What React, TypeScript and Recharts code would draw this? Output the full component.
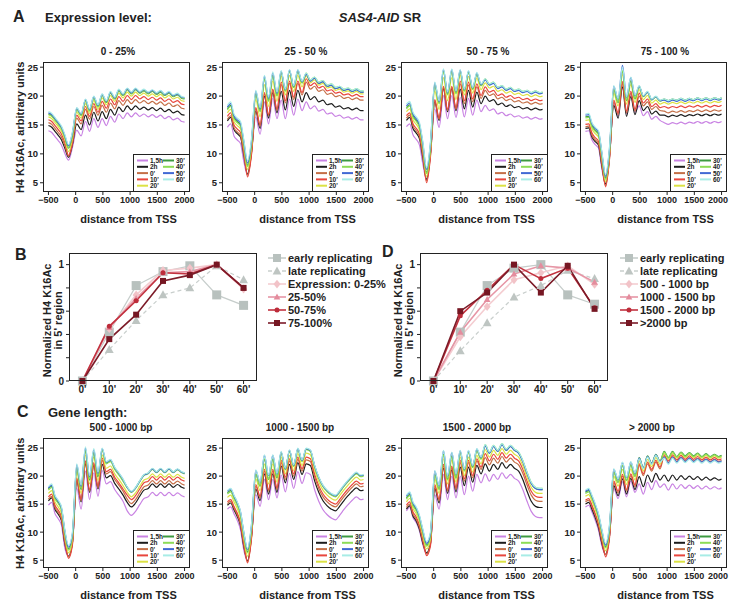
import React from 'react';
import { LineChart, Line, XAxis, YAxis } from 'recharts';

const FONT = "'Liberation Sans', Arial, Helvetica, sans-serif";
const INK = '#222';

// positions (bp from TSS) sampled at nucleosome peaks / troughs, shared by all profile panels
const distance = [-500, -440, -380, -320, -260, -200, -130, -60, 20, 100, 180, 255, 333, 410, 487, 563, 640, 717, 793, 870, 947, 1023, 1100, 1177, 1255, 1332, 1410, 1485, 1560, 1637, 1715, 1792, 1870, 1947, 2000];
const distanceTicks = [-500, 0, 500, 1000, 1500, 2000];
const levelTicks = [5, 10, 15, 20, 25];

const timepoints = ['1,5h', '2h', "0'", "10'", "20'", "30'", "40'", "50'", "60'"];
const timeColors = ['#c983e3', '#1c1c1c', '#c46f47', '#e8463d', '#dce244', '#3d9a40', '#8ddc57', '#4169d4', '#a8ece6'];

// ---- A: expression level 0-25%
const a1_15h = [14.0, 13.7, 13.0, 12.3, 11.5, 10.1, 8.9, 11.1, 14.1, 13.1, 15.6, 13.9, 16.1, 14.6, 16.1, 14.9, 16.5, 15.5, 16.9, 16.1, 17.1, 16.4, 17.1, 16.5, 16.9, 16.4, 16.8, 16.3, 16.7, 16.1, 16.5, 15.9, 16.2, 15.6, 15.5];
const a1_2h = [14.9, 14.6, 13.9, 13.2, 12.4, 11.0, 9.4, 11.6, 15.2, 14.2, 16.7, 15.0, 17.2, 15.7, 17.3, 16.1, 17.7, 16.7, 18.1, 17.3, 18.3, 17.6, 18.3, 17.7, 18.1, 17.6, 18.0, 17.5, 17.9, 17.3, 17.7, 17.1, 17.4, 16.8, 16.7];
const a1_0 = [15.4, 15.1, 14.4, 13.7, 12.9, 11.5, 9.6, 11.8, 16.2, 15.2, 17.7, 16.0, 18.2, 16.7, 18.4, 17.2, 18.8, 17.8, 19.2, 18.4, 19.4, 18.7, 19.4, 18.8, 19.2, 18.7, 19.1, 18.6, 19.0, 18.4, 18.8, 18.2, 18.5, 17.9, 17.8];
const a1_10 = [15.9, 15.6, 14.9, 14.2, 13.4, 12.0, 9.7, 11.9, 16.7, 15.7, 18.2, 16.5, 18.7, 17.2, 19.1, 17.9, 19.5, 18.5, 19.9, 19.1, 20.1, 19.4, 20.1, 19.5, 19.9, 19.4, 19.8, 19.3, 19.7, 19.1, 19.5, 18.9, 19.2, 18.6, 18.5];
const a1_20 = [16.4, 16.1, 15.4, 14.7, 13.9, 12.5, 10.4, 12.6, 17.2, 16.2, 18.7, 17.0, 19.2, 17.7, 19.7, 18.5, 20.1, 19.1, 20.5, 19.7, 20.7, 20.0, 20.7, 20.1, 20.5, 20.0, 20.4, 19.9, 20.3, 19.7, 20.1, 19.5, 19.8, 19.2, 19.1];
const a1_30 = [16.9, 16.6, 15.9, 15.2, 14.4, 13.0, 11.0, 13.2, 17.7, 16.7, 19.2, 17.5, 19.7, 18.2, 20.1, 18.9, 20.5, 19.5, 20.9, 20.1, 21.1, 20.4, 21.1, 20.5, 20.9, 20.4, 20.8, 20.3, 20.7, 20.1, 20.5, 19.9, 20.2, 19.6, 19.5];
const a1_40 = [16.8, 16.5, 15.8, 15.1, 14.3, 12.9, 11.1, 13.3, 17.6, 16.6, 19.1, 17.4, 19.6, 18.1, 20.2, 19.0, 20.6, 19.6, 21.0, 20.2, 21.2, 20.5, 21.2, 20.6, 21.0, 20.5, 20.9, 20.4, 20.8, 20.2, 20.6, 20.0, 20.3, 19.7, 19.6];
const a1_50 = [17.1, 16.8, 16.1, 15.4, 14.6, 13.2, 11.4, 13.6, 17.9, 16.9, 19.4, 17.7, 19.9, 18.4, 20.3, 19.1, 20.7, 19.7, 21.1, 20.3, 21.3, 20.6, 21.3, 20.7, 21.1, 20.6, 21.0, 20.5, 20.9, 20.3, 20.7, 20.1, 20.4, 19.8, 19.7];
const a1_60 = [17.3, 17.0, 16.3, 15.6, 14.8, 13.4, 11.6, 13.8, 18.0, 17.0, 19.5, 17.8, 20.0, 18.5, 20.4, 19.2, 20.8, 19.8, 21.2, 20.4, 21.4, 20.7, 21.4, 20.8, 21.2, 20.7, 21.1, 20.6, 21.0, 20.4, 20.8, 20.2, 20.5, 19.9, 19.8];

// ---- A: 25-50%
const a2_15h = [14.6, 15.2, 13.1, 12.4, 11.8, 8.7, 6.3, 10.0, 16.4, 13.4, 19.0, 15.2, 19.6, 16.1, 19.3, 16.1, 19.5, 16.7, 19.5, 17.5, 19.0, 17.8, 18.3, 17.4, 17.7, 16.9, 17.1, 16.5, 16.7, 16.2, 16.4, 16.0, 16.3, 15.9, 15.9];
const a2_2h = [15.7, 16.3, 14.2, 13.5, 12.9, 9.8, 6.5, 10.2, 17.4, 14.4, 20.0, 16.2, 20.6, 17.1, 20.8, 17.6, 21.0, 18.2, 21.0, 19.0, 20.6, 19.4, 19.9, 19.0, 19.3, 18.5, 18.7, 18.1, 18.3, 17.8, 18.0, 17.6, 17.9, 17.5, 17.5];
const a2_0 = [16.0, 16.6, 14.5, 13.8, 13.2, 10.1, 6.3, 10.0, 17.8, 14.8, 20.4, 16.6, 21.0, 17.5, 22.0, 18.8, 22.2, 19.4, 22.2, 20.2, 22.4, 21.2, 21.7, 20.8, 21.1, 20.3, 20.5, 19.9, 20.1, 19.6, 19.8, 19.4, 19.7, 19.3, 19.3];
const a2_10 = [16.5, 17.1, 15.0, 14.3, 13.7, 10.6, 6.0, 9.7, 18.0, 15.0, 20.6, 16.8, 21.2, 17.7, 22.4, 19.2, 22.6, 19.8, 22.6, 20.6, 23.0, 21.8, 22.3, 21.4, 21.7, 20.9, 21.1, 20.5, 20.7, 20.2, 20.4, 20.0, 20.3, 19.9, 19.9];
const a2_20 = [17.1, 17.7, 15.6, 14.9, 14.3, 11.2, 7.3, 11.0, 19.4, 16.4, 22.0, 18.2, 22.6, 19.1, 23.4, 20.2, 23.6, 20.8, 23.6, 21.6, 23.5, 22.3, 22.8, 21.9, 22.2, 21.4, 21.6, 21.0, 21.2, 20.7, 20.9, 20.5, 20.8, 20.4, 20.4];
const a2_30 = [17.8, 18.4, 16.3, 15.6, 15.0, 11.9, 8.0, 11.7, 20.4, 17.4, 23.0, 19.2, 23.6, 20.1, 24.1, 20.9, 24.3, 21.5, 24.3, 22.3, 23.8, 22.6, 23.1, 22.2, 22.5, 21.7, 21.9, 21.3, 21.5, 21.0, 21.2, 20.8, 21.1, 20.7, 20.7];
const a2_40 = [17.6, 18.2, 16.1, 15.4, 14.8, 11.7, 7.8, 11.5, 20.3, 17.3, 22.9, 19.1, 23.5, 20.0, 24.1, 20.9, 24.3, 21.5, 24.3, 22.3, 24.0, 22.8, 23.3, 22.4, 22.7, 21.9, 22.1, 21.5, 21.7, 21.2, 21.4, 21.0, 21.3, 20.9, 20.9];
const a2_50 = [18.1, 18.7, 16.6, 15.9, 15.3, 12.2, 8.4, 12.1, 20.8, 17.8, 23.4, 19.6, 24.0, 20.5, 24.3, 21.1, 24.5, 21.7, 24.5, 22.5, 23.8, 22.6, 23.1, 22.2, 22.5, 21.7, 21.9, 21.3, 21.5, 21.0, 21.2, 20.8, 21.1, 20.7, 20.7];
const a2_60 = [18.4, 19.0, 16.9, 16.2, 15.6, 12.5, 8.8, 12.5, 21.0, 18.0, 23.6, 19.8, 24.2, 20.7, 24.4, 21.2, 24.6, 21.8, 24.6, 22.6, 24.0, 22.8, 23.3, 22.4, 22.7, 21.9, 22.1, 21.5, 21.7, 21.2, 21.4, 21.0, 21.3, 20.9, 20.9];

// ---- A: 50-75%
const a3_15h = [14.7, 15.2, 13.3, 12.5, 11.5, 8.3, 5.5, 9.9, 17.8, 14.6, 20.1, 16.1, 20.1, 16.3, 19.8, 16.4, 19.6, 16.7, 19.3, 17.3, 18.4, 17.5, 17.8, 16.9, 17.2, 16.6, 16.9, 16.4, 16.6, 16.2, 16.4, 16.0, 16.3, 16.0, 16.1];
const a3_2h = [15.8, 16.3, 14.4, 13.6, 12.6, 9.4, 5.6, 10.0, 19.0, 15.8, 21.3, 17.3, 21.3, 17.5, 21.2, 17.8, 21.0, 18.1, 20.7, 18.7, 20.0, 19.1, 19.4, 18.5, 18.8, 18.2, 18.5, 18.0, 18.2, 17.8, 18.0, 17.6, 17.9, 17.6, 17.7];
const a3_0 = [16.2, 16.7, 14.8, 14.0, 13.0, 9.8, 5.3, 9.7, 19.2, 16.0, 21.5, 17.5, 21.5, 17.7, 22.1, 18.7, 21.9, 19.0, 21.6, 19.6, 21.0, 20.1, 20.4, 19.5, 19.8, 19.2, 19.5, 19.0, 19.2, 18.8, 19.0, 18.6, 18.9, 18.6, 18.7];
const a3_10 = [16.6, 17.1, 15.2, 14.4, 13.4, 10.2, 5.0, 9.4, 19.4, 16.2, 21.7, 17.7, 21.7, 17.9, 22.6, 19.2, 22.4, 19.5, 22.1, 20.1, 21.6, 20.7, 21.0, 20.1, 20.4, 19.8, 20.1, 19.6, 19.8, 19.4, 19.6, 19.2, 19.5, 19.2, 19.3];
const a3_20 = [17.3, 17.8, 15.9, 15.1, 14.1, 10.9, 6.1, 10.5, 20.9, 17.7, 23.2, 19.2, 23.2, 19.4, 23.6, 20.2, 23.4, 20.5, 23.1, 21.1, 22.3, 21.4, 21.7, 20.8, 21.1, 20.5, 20.8, 20.3, 20.5, 20.1, 20.3, 19.9, 20.2, 19.9, 20.0];
const a3_30 = [18.0, 18.5, 16.6, 15.8, 14.8, 11.6, 6.8, 11.2, 22.0, 18.8, 24.3, 20.3, 24.3, 20.5, 24.3, 20.9, 24.1, 21.2, 23.8, 21.8, 22.9, 22.0, 22.3, 21.4, 21.7, 21.1, 21.4, 20.9, 21.1, 20.7, 20.9, 20.5, 20.8, 20.5, 20.6];
const a3_40 = [17.8, 18.3, 16.4, 15.6, 14.6, 11.4, 6.6, 11.0, 21.9, 18.7, 24.2, 20.2, 24.2, 20.4, 24.3, 20.9, 24.1, 21.2, 23.8, 21.8, 23.0, 22.1, 22.4, 21.5, 21.8, 21.2, 21.5, 21.0, 21.2, 20.8, 21.0, 20.6, 20.9, 20.6, 20.7];
const a3_50 = [18.3, 18.8, 16.9, 16.1, 15.1, 11.9, 7.3, 11.7, 22.3, 19.1, 24.6, 20.6, 24.6, 20.8, 24.5, 21.1, 24.3, 21.4, 24.0, 22.0, 22.8, 21.9, 22.2, 21.3, 21.6, 21.0, 21.3, 20.8, 21.0, 20.6, 20.8, 20.4, 20.7, 20.4, 20.5];
const a3_60 = [18.6, 19.1, 17.2, 16.4, 15.4, 12.2, 7.6, 12.0, 22.4, 19.2, 24.7, 20.7, 24.7, 20.9, 24.6, 21.2, 24.4, 21.5, 24.1, 22.1, 23.0, 22.1, 22.4, 21.5, 21.8, 21.2, 21.5, 21.0, 21.2, 20.8, 21.0, 20.6, 20.9, 20.6, 20.7];

// ---- A: 75-100%
const a4_15h = [13.9, 14.0, 12.4, 11.6, 11.0, 7.5, 4.7, 9.3, 18.8, 16.6, 22.0, 16.9, 20.3, 17.2, 18.3, 16.6, 17.3, 16.0, 16.5, 15.8, 15.4, 15.1, 15.4, 15.2, 15.5, 15.2, 15.5, 15.3, 15.6, 15.3, 15.6, 15.3, 15.6, 15.4, 15.6];
const a4_2h = [14.4, 14.5, 12.9, 12.1, 11.5, 8.0, 4.8, 9.4, 18.4, 16.2, 21.6, 16.5, 19.9, 16.8, 19.2, 17.5, 18.2, 16.9, 17.4, 16.7, 16.7, 16.4, 16.7, 16.5, 16.8, 16.5, 16.8, 16.6, 16.9, 16.6, 16.9, 16.6, 16.9, 16.7, 16.9];
const a4_0 = [14.7, 14.8, 13.2, 12.4, 11.8, 8.3, 4.5, 9.1, 19.0, 16.8, 22.2, 17.1, 20.5, 17.4, 20.0, 18.3, 19.0, 17.7, 18.2, 17.5, 17.4, 17.1, 17.4, 17.2, 17.5, 17.2, 17.5, 17.3, 17.6, 17.3, 17.6, 17.3, 17.6, 17.4, 17.6];
const a4_10 = [15.1, 15.2, 13.6, 12.8, 12.2, 8.7, 4.3, 8.9, 19.3, 17.1, 22.5, 17.4, 20.8, 17.7, 20.5, 18.8, 19.5, 18.2, 18.7, 18.0, 18.2, 17.9, 18.2, 18.0, 18.3, 18.0, 18.3, 18.1, 18.4, 18.1, 18.4, 18.1, 18.4, 18.2, 18.4];
const a4_20 = [15.8, 15.9, 14.3, 13.5, 12.9, 9.4, 5.2, 9.8, 20.5, 18.3, 23.7, 18.6, 22.0, 18.9, 21.1, 19.4, 20.1, 18.8, 19.3, 18.6, 18.9, 18.6, 18.9, 18.7, 19.0, 18.7, 19.0, 18.8, 19.1, 18.8, 19.1, 18.8, 19.1, 18.9, 19.1];
const a4_30 = [16.4, 16.5, 14.9, 14.1, 13.5, 10.0, 5.8, 10.4, 21.1, 18.9, 24.3, 19.2, 22.6, 19.5, 21.7, 20.0, 20.7, 19.4, 19.9, 19.2, 19.5, 19.2, 19.5, 19.3, 19.6, 19.3, 19.6, 19.4, 19.7, 19.4, 19.7, 19.4, 19.7, 19.5, 19.7];
const a4_40 = [16.2, 16.3, 14.7, 13.9, 13.3, 9.8, 5.6, 10.2, 21.2, 19.0, 24.4, 19.3, 22.7, 19.6, 21.6, 19.9, 20.6, 19.3, 19.8, 19.1, 19.4, 19.1, 19.4, 19.2, 19.5, 19.2, 19.5, 19.3, 19.6, 19.3, 19.6, 19.3, 19.6, 19.4, 19.6];
const a4_50 = [16.7, 16.8, 15.2, 14.4, 13.8, 10.3, 6.1, 10.7, 21.7, 19.5, 25.3, 19.8, 23.2, 20.1, 21.7, 20.0, 20.7, 19.4, 19.9, 19.2, 19.3, 19.0, 19.3, 19.1, 19.4, 19.1, 19.4, 19.2, 19.5, 19.2, 19.5, 19.2, 19.5, 19.3, 19.5];
const a4_60 = [16.9, 17.0, 15.4, 14.6, 14.0, 10.5, 6.4, 11.0, 21.8, 19.6, 25.0, 19.9, 23.3, 20.2, 21.8, 20.1, 20.8, 19.5, 20.0, 19.3, 19.5, 19.2, 19.5, 19.3, 19.6, 19.3, 19.6, 19.4, 19.7, 19.4, 19.7, 19.4, 19.7, 19.5, 19.7];

// ---- C: gene length 500-1000 bp
const c1_15h = [14.8, 15.3, 13.3, 12.4, 11.2, 7.2, 5.7, 8.1, 17.9, 14.1, 20.9, 15.8, 20.6, 16.4, 21.0, 18.6, 19.0, 17.6, 16.6, 15.5, 13.8, 13.0, 13.7, 14.9, 16.0, 16.3, 17.1, 16.5, 17.1, 16.5, 17.1, 16.5, 17.0, 16.5, 16.3];
const c1_2h = [15.6, 16.1, 14.1, 13.2, 12.0, 8.0, 5.7, 8.1, 19.2, 15.4, 22.2, 17.1, 21.9, 17.7, 22.1, 19.7, 20.1, 18.7, 17.7, 16.6, 15.3, 14.5, 15.2, 16.4, 17.5, 17.8, 18.6, 18.0, 18.6, 18.0, 18.6, 18.0, 18.5, 18.0, 17.8];
const c1_0 = [15.9, 16.4, 14.4, 13.5, 12.3, 8.3, 5.6, 8.0, 19.4, 15.6, 22.4, 17.3, 22.1, 17.9, 22.8, 20.4, 20.8, 19.4, 18.4, 17.3, 15.9, 15.1, 15.8, 17.0, 18.1, 18.4, 19.2, 18.6, 19.2, 18.6, 19.2, 18.6, 19.1, 18.6, 18.4];
const c1_10 = [16.3, 16.8, 14.8, 13.9, 12.7, 8.7, 5.3, 7.7, 19.7, 15.9, 22.7, 17.6, 22.4, 18.2, 23.2, 20.8, 21.2, 19.8, 18.8, 17.7, 16.6, 15.8, 16.5, 17.7, 18.8, 19.1, 19.9, 19.3, 19.9, 19.3, 19.9, 19.3, 19.8, 19.3, 19.1];
const c1_20 = [16.9, 17.4, 15.4, 14.5, 13.3, 9.3, 6.3, 8.7, 20.7, 16.9, 23.7, 18.6, 23.4, 19.2, 23.8, 21.4, 21.8, 20.4, 19.4, 18.3, 17.1, 16.3, 17.0, 18.2, 19.3, 19.6, 20.4, 19.8, 20.4, 19.8, 20.4, 19.8, 20.3, 19.8, 19.6];
const c1_30 = [17.7, 18.2, 16.2, 15.3, 14.1, 10.1, 7.0, 9.4, 21.4, 17.6, 24.4, 19.3, 24.1, 19.9, 24.7, 22.3, 22.7, 21.3, 20.3, 19.2, 18.0, 17.2, 17.9, 19.1, 20.2, 20.5, 21.3, 20.7, 21.3, 20.7, 21.3, 20.7, 21.2, 20.7, 20.5];
const c1_40 = [17.5, 18.0, 16.0, 15.1, 13.9, 9.9, 6.8, 9.2, 21.6, 17.8, 24.6, 19.5, 24.3, 20.1, 24.6, 22.2, 22.6, 21.2, 20.2, 19.1, 17.9, 17.1, 17.8, 19.0, 20.1, 20.4, 21.2, 20.6, 21.2, 20.6, 21.2, 20.6, 21.1, 20.6, 20.4];
const c1_50 = [17.9, 18.4, 16.4, 15.5, 14.3, 10.3, 7.3, 9.7, 22.0, 18.2, 25.0, 19.9, 24.7, 20.5, 24.9, 22.5, 22.9, 21.5, 20.5, 19.4, 18.0, 17.2, 17.9, 19.1, 20.2, 20.5, 21.3, 20.7, 21.3, 20.7, 21.3, 20.7, 21.2, 20.7, 20.5];
const c1_60 = [18.1, 18.6, 16.6, 15.7, 14.5, 10.5, 7.6, 10.0, 22.2, 18.4, 25.2, 20.1, 24.9, 20.7, 25.0, 22.6, 23.0, 21.6, 20.6, 19.5, 18.1, 17.3, 18.0, 19.2, 20.3, 20.6, 21.4, 20.8, 21.4, 20.8, 21.4, 20.8, 21.3, 20.8, 20.6];

// ---- C: 1000-1500 bp
const c2_15h = [14.1, 14.5, 13.3, 12.1, 10.4, 6.8, 4.9, 9.1, 16.7, 14.6, 19.4, 15.8, 19.4, 16.1, 20.2, 17.2, 20.5, 17.8, 20.8, 18.7, 20.6, 20.3, 17.6, 15.5, 14.0, 13.1, 12.5, 12.2, 13.0, 14.0, 14.9, 15.7, 16.3, 15.8, 15.9];
const c2_2h = [14.8, 15.2, 14.0, 12.8, 11.1, 7.5, 4.9, 9.1, 17.7, 15.6, 20.4, 16.8, 20.4, 17.1, 21.8, 18.8, 22.1, 19.4, 22.4, 20.3, 22.2, 21.9, 19.2, 17.1, 15.6, 14.7, 14.1, 13.8, 14.6, 15.6, 16.5, 17.3, 17.9, 17.4, 17.5];
const c2_0 = [15.1, 15.5, 14.3, 13.1, 11.4, 7.8, 4.7, 8.9, 18.2, 16.1, 20.9, 17.3, 20.9, 17.6, 22.4, 19.4, 22.7, 20.0, 23.0, 20.9, 22.9, 22.6, 19.9, 17.8, 16.3, 15.4, 14.8, 14.5, 15.3, 16.3, 17.2, 18.0, 18.6, 18.1, 18.2];
const c2_10 = [15.4, 15.8, 14.6, 13.4, 11.7, 8.1, 4.5, 8.7, 18.5, 16.4, 21.2, 17.6, 21.2, 17.9, 22.8, 19.8, 23.1, 20.4, 23.4, 21.3, 23.4, 23.1, 20.4, 18.3, 16.8, 15.9, 15.3, 15.0, 15.8, 16.8, 17.7, 18.5, 19.1, 18.6, 18.7];
const c2_20 = [16.2, 16.6, 15.4, 14.2, 12.5, 8.9, 5.7, 9.9, 19.5, 17.4, 22.2, 18.6, 22.2, 18.9, 23.4, 20.4, 23.7, 21.0, 24.0, 21.9, 24.1, 23.8, 21.1, 19.0, 17.5, 16.6, 16.0, 15.7, 16.5, 17.5, 18.4, 19.2, 19.8, 19.3, 19.4];
const c2_30 = [17.0, 17.4, 16.2, 15.0, 13.3, 9.7, 6.5, 10.7, 20.3, 18.2, 23.0, 19.4, 23.0, 19.7, 24.2, 21.2, 24.5, 21.8, 24.8, 22.7, 24.8, 24.5, 21.8, 19.7, 18.2, 17.3, 16.7, 16.4, 17.2, 18.2, 19.1, 19.9, 20.5, 20.0, 20.1];
const c2_40 = [16.8, 17.2, 16.0, 14.8, 13.1, 9.5, 6.3, 10.5, 20.4, 18.3, 23.1, 19.5, 23.1, 19.8, 24.1, 21.1, 24.4, 21.7, 24.7, 22.6, 24.7, 24.4, 21.7, 19.6, 18.1, 17.2, 16.6, 16.3, 17.1, 18.1, 19.0, 19.8, 20.4, 19.9, 20.0];
const c2_50 = [17.3, 17.7, 16.5, 15.3, 13.6, 10.0, 6.9, 11.1, 21.0, 18.9, 23.7, 20.1, 23.7, 20.4, 24.3, 21.3, 24.6, 21.9, 24.9, 22.8, 24.9, 24.6, 21.9, 19.8, 18.3, 17.4, 16.8, 16.5, 17.3, 18.3, 19.2, 20.0, 20.6, 20.1, 20.2];
const c2_60 = [17.4, 17.8, 16.6, 15.4, 13.7, 10.1, 7.1, 11.3, 21.1, 19.0, 23.8, 20.2, 23.8, 20.5, 24.4, 21.4, 24.7, 22.0, 25.0, 22.9, 25.0, 24.7, 22.0, 19.9, 18.4, 17.5, 16.9, 16.6, 17.4, 18.4, 19.3, 20.1, 20.7, 20.2, 20.3];

// ---- C: 1500-2000 bp
const c3_15h = [13.8, 14.4, 12.6, 11.7, 10.2, 7.8, 6.1, 7.8, 16.7, 14.1, 20.3, 15.8, 20.0, 16.1, 20.0, 16.7, 20.0, 17.3, 20.3, 18.8, 20.4, 19.1, 20.3, 19.4, 20.6, 19.6, 20.3, 19.6, 19.1, 17.6, 15.5, 13.7, 12.8, 12.6, 12.6];
const c3_2h = [14.1, 14.7, 12.9, 12.0, 10.5, 8.1, 6.3, 8.0, 17.8, 15.2, 21.4, 16.9, 21.1, 17.2, 21.6, 18.3, 21.6, 18.9, 21.9, 20.4, 22.2, 20.9, 22.1, 21.2, 22.4, 21.4, 22.1, 21.4, 20.9, 19.4, 17.3, 15.5, 14.6, 14.4, 14.4];
const c3_0 = [14.4, 15.0, 13.2, 12.3, 10.8, 8.4, 6.1, 7.8, 18.2, 15.6, 21.8, 17.3, 21.5, 17.6, 22.4, 19.1, 22.4, 19.7, 22.7, 21.2, 23.3, 22.0, 23.2, 22.3, 23.5, 22.5, 23.2, 22.5, 22.0, 20.5, 18.4, 16.6, 15.7, 15.5, 15.5];
const c3_10 = [14.8, 15.4, 13.6, 12.7, 11.2, 8.8, 5.8, 7.5, 18.5, 15.9, 22.1, 17.6, 21.8, 17.9, 22.8, 19.5, 22.8, 20.1, 23.1, 21.6, 24.0, 22.7, 23.9, 23.0, 24.2, 23.2, 23.9, 23.2, 22.7, 21.2, 19.1, 17.3, 16.4, 16.2, 16.2];
const c3_20 = [15.4, 16.0, 14.2, 13.3, 11.8, 9.4, 7.0, 8.7, 19.5, 16.9, 23.1, 18.6, 22.8, 18.9, 23.4, 20.1, 23.4, 20.7, 23.7, 22.2, 24.7, 23.4, 24.6, 23.7, 24.9, 23.9, 24.6, 23.9, 23.4, 21.9, 19.8, 18.0, 17.1, 16.9, 16.9];
const c3_30 = [16.1, 16.7, 14.9, 14.0, 12.5, 10.1, 7.7, 9.4, 20.3, 17.7, 23.9, 19.4, 23.6, 19.7, 24.3, 21.0, 24.3, 21.6, 24.6, 23.1, 25.4, 24.1, 25.3, 24.4, 25.6, 24.6, 25.3, 24.6, 24.1, 22.6, 20.5, 18.7, 17.8, 17.6, 17.6];
const c3_40 = [15.9, 16.5, 14.7, 13.8, 12.3, 9.9, 7.5, 9.2, 20.2, 17.6, 23.8, 19.3, 23.5, 19.6, 24.2, 20.9, 24.2, 21.5, 24.5, 23.0, 25.6, 24.3, 25.5, 24.6, 25.8, 24.8, 25.5, 24.8, 24.3, 22.8, 20.7, 18.9, 18.0, 17.8, 17.8];
const c3_50 = [16.4, 17.0, 15.2, 14.3, 12.8, 10.4, 8.0, 9.7, 20.9, 18.3, 24.5, 20.0, 24.2, 20.3, 24.5, 21.2, 24.5, 21.8, 24.8, 23.3, 25.4, 24.1, 25.3, 24.4, 25.6, 24.6, 25.3, 24.6, 24.1, 22.6, 20.5, 18.7, 17.8, 17.6, 17.6];
const c3_60 = [16.6, 17.2, 15.4, 14.5, 13.0, 10.6, 8.3, 10.0, 21.0, 18.4, 24.6, 20.1, 24.3, 20.4, 24.6, 21.3, 24.6, 21.9, 24.9, 23.4, 25.6, 24.3, 25.5, 24.6, 25.8, 24.8, 25.5, 24.8, 24.3, 22.8, 20.7, 18.9, 18.0, 17.8, 17.8];

// ---- C: > 2000 bp
const c4_15h = [14.5, 14.8, 13.6, 12.1, 10.3, 7.6, 6.0, 9.2, 17.8, 16.0, 19.0, 16.3, 19.1, 17.1, 18.6, 16.8, 18.9, 17.6, 19.2, 18.0, 18.6, 17.5, 18.6, 17.7, 18.5, 17.8, 18.4, 17.8, 18.3, 17.7, 18.2, 17.7, 18.1, 17.7, 17.9];
const c4_2h = [15.0, 15.3, 14.1, 12.6, 10.8, 8.1, 6.0, 9.2, 18.3, 16.5, 19.5, 16.8, 19.6, 17.6, 19.9, 18.1, 20.2, 18.9, 20.5, 19.3, 20.2, 19.1, 20.2, 19.3, 20.1, 19.4, 20.0, 19.4, 19.9, 19.3, 19.8, 19.3, 19.7, 19.3, 19.5];
const c4_0 = [15.4, 15.7, 14.5, 13.0, 11.2, 8.5, 6.0, 9.2, 18.8, 17.0, 20.0, 17.3, 20.1, 18.1, 21.9, 20.1, 22.2, 20.9, 22.5, 21.3, 23.5, 22.4, 23.5, 22.6, 23.4, 22.7, 23.3, 22.7, 23.2, 22.6, 23.1, 22.6, 23.0, 22.6, 22.8];
const c4_10 = [15.7, 16.0, 14.8, 13.3, 11.5, 8.8, 5.6, 8.8, 19.1, 17.3, 20.3, 17.6, 20.4, 18.4, 22.2, 20.4, 22.5, 21.2, 22.8, 21.6, 23.8, 22.7, 23.8, 22.9, 23.7, 23.0, 23.6, 23.0, 23.5, 22.9, 23.4, 22.9, 23.3, 22.9, 23.1];
const c4_20 = [16.4, 16.7, 15.5, 14.0, 12.2, 9.5, 6.7, 9.9, 20.0, 18.2, 21.2, 18.5, 21.3, 19.3, 22.7, 20.9, 23.0, 21.7, 23.3, 22.1, 24.1, 23.0, 24.1, 23.2, 24.0, 23.3, 23.9, 23.3, 23.8, 23.2, 23.7, 23.2, 23.6, 23.2, 23.4];
const c4_30 = [17.1, 17.4, 16.2, 14.7, 12.9, 10.2, 7.4, 10.6, 20.7, 18.9, 21.9, 19.2, 22.0, 20.0, 23.3, 21.5, 23.6, 22.3, 23.9, 22.7, 24.4, 23.3, 24.4, 23.5, 24.3, 23.6, 24.2, 23.6, 24.1, 23.5, 24.0, 23.5, 23.9, 23.5, 23.7];
const c4_40 = [16.9, 17.2, 16.0, 14.5, 12.7, 10.0, 7.2, 10.4, 20.7, 18.9, 21.9, 19.2, 22.0, 20.0, 23.2, 21.4, 23.5, 22.2, 23.8, 22.6, 24.3, 23.2, 24.3, 23.4, 24.2, 23.5, 24.1, 23.5, 24.0, 23.4, 23.9, 23.4, 23.8, 23.4, 23.6];
const c4_50 = [17.3, 17.6, 16.4, 14.9, 13.1, 10.4, 7.7, 10.9, 21.2, 19.4, 22.4, 19.7, 22.5, 20.5, 23.2, 21.4, 23.5, 22.2, 23.8, 22.6, 23.4, 22.3, 23.4, 22.5, 23.3, 22.6, 23.2, 22.6, 23.1, 22.5, 23.0, 22.5, 22.9, 22.5, 22.7];
const c4_60 = [17.5, 17.8, 16.6, 15.1, 13.3, 10.6, 8.0, 11.2, 21.3, 19.5, 22.5, 19.8, 22.6, 20.6, 23.1, 21.3, 23.4, 22.1, 23.7, 22.5, 23.2, 22.1, 23.2, 22.3, 23.1, 22.4, 23.0, 22.4, 22.9, 22.3, 22.8, 22.3, 22.7, 22.3, 22.5];

// ---- B / D: normalized H4K16Ac in 5' region
const timeMinutes = [0, 10, 20, 30, 40, 50, 60];
const timeLabels = ["0'", "10'", "20'", "30'", "40'", "50'", "60'"];
const normTicks = [0, 0.2, 0.4, 0.6, 0.8, 1];

const bEarly = [0, 0.42, 0.82, 0.94, 0.99, 0.74, 0.65];
const bLate = [0, 0.27, 0.52, 0.74, 0.80, 0.99, 0.87];
const bExpr0_25 = [0, 0.45, 0.74, 0.95, 0.97, 1.0, 0.79];
const bExpr25_50 = [0, 0.46, 0.71, 0.93, 0.94, 1.0, 0.80];
const bExpr50_75 = [0, 0.47, 0.69, 0.93, 0.92, 1.0, 0.80];
const bExpr75_100 = [0, 0.36, 0.57, 0.86, 0.91, 1.0, 0.80];

const dEarly = [0, 0.42, 0.82, 0.97, 1.0, 0.74, 0.66];
const dLate = [0, 0.26, 0.50, 0.72, 0.82, 0.95, 0.88];
const dLen500 = [0, 0.38, 0.64, 0.87, 0.93, 0.99, 0.83];
const dLen1000 = [0, 0.42, 0.70, 0.92, 0.99, 0.97, 0.85];
const dLen1500 = [0, 0.56, 0.78, 1.0, 0.88, 0.97, 0.63];
const dLen2000 = [0, 0.60, 0.76, 1.0, 0.76, 0.99, 0.62];

const expressionPanels = [
  { title: '0 - 25%', titleX: 118, lines: [a1_15h, a1_2h, a1_0, a1_10, a1_20, a1_30, a1_40, a1_50, a1_60] },
  { title: '25 - 50 %', titleX: 306, lines: [a2_15h, a2_2h, a2_0, a2_10, a2_20, a2_30, a2_40, a2_50, a2_60] },
  { title: '50 - 75 %', titleX: 488, lines: [a3_15h, a3_2h, a3_0, a3_10, a3_20, a3_30, a3_40, a3_50, a3_60] },
  { title: '75 - 100 %', titleX: 665, lines: [a4_15h, a4_2h, a4_0, a4_10, a4_20, a4_30, a4_40, a4_50, a4_60] },
];
const lengthPanels = [
  { title: '500 - 1000 bp', titleX: 121, lines: [c1_15h, c1_2h, c1_0, c1_10, c1_20, c1_30, c1_40, c1_50, c1_60] },
  { title: '1000 - 1500 bp', titleX: 300, lines: [c2_15h, c2_2h, c2_0, c2_10, c2_20, c2_30, c2_40, c2_50, c2_60] },
  { title: '1500 - 2000 bp', titleX: 477, lines: [c3_15h, c3_2h, c3_0, c3_10, c3_20, c3_30, c3_40, c3_50, c3_60] },
  { title: '> 2000 bp', titleX: 652, lines: [c4_15h, c4_2h, c4_0, c4_10, c4_20, c4_30, c4_40, c4_50, c4_60] },
];

const expressionSeries = [
  { name: 'early replicating', values: bEarly, color: '#c6cdcb', fill: '#b8c1be', shape: 'square', size: 9, dash: '' },
  { name: 'late replicating', values: bLate, color: '#c9cfcd', fill: '#bec5c2', shape: 'triangle', size: 8, dash: '4 3' },
  { name: 'Expression: 0-25%', values: bExpr0_25, color: '#f4cdd1', fill: '#f2c3c8', shape: 'diamond', size: 7, dash: '' },
  { name: '25-50%', values: bExpr25_50, color: '#e695a5', fill: '#e48c9d', shape: 'triangle', size: 6, dash: '' },
  { name: '50-75%', values: bExpr50_75, color: '#c2323f', fill: '#bd2c3a', shape: 'circle', size: 5, dash: '' },
  { name: '75-100%', values: bExpr75_100, color: '#7c1b28', fill: '#761723', shape: 'square', size: 6, dash: '' },
];
const lengthSeries = [
  { name: 'early replicating', values: dEarly, color: '#c6cdcb', fill: '#b8c1be', shape: 'square', size: 9, dash: '' },
  { name: 'late replicating', values: dLate, color: '#c9cfcd', fill: '#bec5c2', shape: 'triangle', size: 8, dash: '4 3' },
  { name: '500 - 1000 bp', values: dLen500, color: '#f4cdd1', fill: '#f2c3c8', shape: 'diamond', size: 7, dash: '' },
  { name: '1000 - 1500 bp', values: dLen1000, color: '#e695a5', fill: '#e48c9d', shape: 'triangle', size: 6, dash: '' },
  { name: '1500 - 2000 bp', values: dLen1500, color: '#c2323f', fill: '#bd2c3a', shape: 'circle', size: 5, dash: '' },
  { name: '>2000 bp', values: dLen2000, color: '#7c1b28', fill: '#761723', shape: 'square', size: 6, dash: '' },
];

const PAGE_W = 729;
const PLOT_LEFTS = [43, 222, 401, 580];
const PLOT_W = 147;
const PLOT_H = 130;
const AXIS_W = 30;
const XAXIS_H = 22;
const PAD = 2;
const RIGHT_PAD = 14;
const TICK_FONT = 9;

function Txt({ x, y, size, children, align = 'center', bold = true }: any) {
  const w = 300;
  const left = align === 'center' ? x - w / 2 : align === 'right' ? x - w : x;
  return (
    <div style={{ position: 'absolute', left, top: y - size * 0.49, width: w, textAlign: align, fontSize: size, lineHeight: `${size}px`, fontWeight: bold ? 700 : 400, whiteSpace: 'nowrap', color: INK }}>
      {children}
    </div>
  );
}

function VTxt({ x, y, size, children }: any) {
  return (
    <div style={{ position: 'absolute', left: x - 150, top: y - size * 0.49, width: 300, textAlign: 'center', fontSize: size, lineHeight: `${size}px`, fontWeight: 700, whiteSpace: 'nowrap', color: INK, transform: 'rotate(-90deg)', transformOrigin: `150px ${size * 0.49}px` }}>
      {children}
    </div>
  );
}

function Marker({ cx, cy, shape, color, size }: any) {
  if (cx == null || cy == null) return null;
  const h = size / 2;
  if (shape === 'square') return <rect x={cx - h} y={cy - h} width={size} height={size} fill={color} />;
  if (shape === 'triangle')
    return <polygon points={`${cx},${cy - h * 1.15} ${cx - h * 1.1},${cy + h * 0.85} ${cx + h * 1.1},${cy + h * 0.85}`} fill={color} />;
  if (shape === 'diamond')
    return <polygon points={`${cx},${cy - h * 1.25} ${cx + h},${cy} ${cx},${cy + h * 1.25} ${cx - h},${cy}`} fill={color} />;
  return <circle cx={cx} cy={cy} r={h} fill={color} />;
}

const minus = (v: number) => (v < 0 ? '\u2212' + Math.abs(v) : String(v));

// x tick label that never runs past the right edge of the page
function DistanceTick({ x, y, payload, limit }: any) {
  return (
    <text x={Math.min(x, limit)} y={y} dy="0.71em" textAnchor="middle" fontSize={TICK_FONT} fontWeight={700} fill={INK} fontFamily={FONT}>
      {minus(payload.value)}
    </text>
  );
}

function TimeLegend({ left, top }: any) {
  // small legend box inside each profile panel
  const rowY = (i: number) => 5.5 + i * 6.3;
  return (
    <svg style={{ position: 'absolute', left, top, background: '#fff', border: `1px solid ${INK}`, boxSizing: 'border-box' }} width={57} height={38}>
      {timepoints.map((t, k) => {
        const col = k < 5 ? 0 : 1;
        const row = k < 5 ? k : k - 5;
        const x0 = col === 0 ? 3 : 29;
        return (
          <g key={t}>
            <line x1={x0} x2={x0 + 11} y1={rowY(row)} y2={rowY(row)} stroke={timeColors[k]} strokeWidth={2} />
            <text x={x0 + 13} y={rowY(row) + 2.4} fontSize={6.5} fontWeight={700} fill={INK} fontFamily={FONT}>{t}</text>
          </g>
        );
      })}
    </svg>
  );
}

function ProfilePanel({ x, y, title, titleX, lines, yDomain }: any) {
  const rows = distance.map((d, i) => {
    const r: Record<string, number> = { d };
    lines.forEach((s: number[], k: number) => { r['s' + k] = s[i]; });
    return r;
  });
  const chartLeft = x - AXIS_W;
  const tickLimit = PAGE_W - 1 - 10 - chartLeft;
  return (
    <>
      <Txt x={titleX} y={y - 10} size={10}>{title}</Txt>
      <div style={{ position: 'absolute', left: chartLeft, top: y - PAD }}>
        <LineChart width={AXIS_W + PLOT_W + RIGHT_PAD} height={PAD + PLOT_H + XAXIS_H} data={rows} margin={{ top: PAD, right: RIGHT_PAD, bottom: 0, left: 0 }}>
          <XAxis dataKey="d" type="number" domain={[-600, 2100]} ticks={distanceTicks} interval={0}
            axisLine={false} tickLine={{ stroke: INK }} tickSize={3} height={XAXIS_H}
            tick={(p: any) => <DistanceTick key={p.index} {...p} limit={tickLimit} />} />
          <YAxis type="number" domain={yDomain} ticks={levelTicks} interval={0} allowDataOverflow
            axisLine={false} tickLine={{ stroke: INK }} tickSize={3} width={AXIS_W}
            tick={{ fontSize: 9.5, fontWeight: 700, fill: INK, fontFamily: FONT }} />
          {lines.map((_: number[], k: number) => (
            <Line key={k} type="monotone" dataKey={'s' + k} stroke={timeColors[k]} strokeWidth={1.2} dot={false} activeDot={false} isAnimationActive={false} />
          ))}
        </LineChart>
      </div>
      <div style={{ position: 'absolute', left: x, top: y, width: PLOT_W, height: PLOT_H, border: `1px solid ${INK}`, boxSizing: 'border-box' }} />
      <TimeLegend left={x + PLOT_W - 57} top={y + PLOT_H - 38} />
      <Txt x={x + PLOT_W / 2 + 12} y={y + PLOT_H + 27} size={11}>distance from TSS</Txt>
    </>
  );
}

const NORM_TOP = 253;
const NORM_H = 128;
const NORM_W = 188;
const NORM_AXIS_W = 22;

function NormPanel({ x, series, legendX }: any) {
  const rows = timeMinutes.map((t, i) => {
    const r: Record<string, number> = { t };
    series.forEach((s: any, k: number) => { r['s' + k] = s.values[i]; });
    return r;
  });
  return (
    <>
      <div style={{ position: 'absolute', left: x - NORM_AXIS_W, top: NORM_TOP - PAD }}>
        <LineChart width={NORM_AXIS_W + NORM_W + RIGHT_PAD} height={PAD + NORM_H + 22} data={rows} margin={{ top: PAD, right: RIGHT_PAD, bottom: 0, left: 0 }}>
          <XAxis dataKey="t" type="number" domain={[-5, 65]} ticks={timeMinutes} interval={0}
            tickFormatter={(v: number) => timeLabels[timeMinutes.indexOf(v)]}
            axisLine={false} tickLine={{ stroke: INK }} tickSize={3} height={22}
            tick={{ fontSize: 10, fontWeight: 700, fill: INK, fontFamily: FONT }} />
          <YAxis type="number" domain={[0, 1.1]} ticks={normTicks} interval={0}
            tickFormatter={(v: number) => (v === 0 || v === 1 ? String(v) : '')}
            axisLine={false} tickLine={{ stroke: INK }} tickSize={3} width={NORM_AXIS_W}
            tick={{ fontSize: 10, fontWeight: 700, fill: INK, fontFamily: FONT }} />
          {series.map((s: any, k: number) => (
            <Line key={k} type="linear" dataKey={'s' + k} stroke={s.color} strokeWidth={k < 2 ? 1.2 : 1.6}
              strokeDasharray={s.dash || undefined} activeDot={false} isAnimationActive={false}
              dot={(p: any) => <Marker key={`m${k}-${p.index}`} cx={p.cx} cy={p.cy} shape={s.shape} color={s.fill} size={s.size} />} />
          ))}
        </LineChart>
      </div>
      <div style={{ position: 'absolute', left: x, top: NORM_TOP, width: NORM_W, height: NORM_H, border: `1px solid ${INK}`, boxSizing: 'border-box' }} />
      <VTxt x={x - 22} y={320} size={11}>Normalized H4 K16Ac</VTxt>
      <VTxt x={x - 11} y={320} size={11}>in 5' region</VTxt>
      {series.map((s: any, k: number) => {
        const cy = 258 + k * 13;
        return (
          <div key={s.name}>
            <svg style={{ position: 'absolute', left: legendX, top: cy - 6 }} width={18} height={12}>
              <line x1={0} x2={18} y1={6} y2={6} stroke={s.color} strokeWidth={1.6} strokeDasharray={s.dash || undefined} />
              <Marker cx={9} cy={6} shape={s.shape} color={s.fill} size={Math.min(s.size, 8)} />
            </svg>
            <Txt x={legendX + 20} y={cy} size={11} align="left">{s.name}</Txt>
          </div>
        );
      })}
    </>
  );
}

export default function App() {
  return (
    <div style={{ position: 'absolute', left: 0, top: 0, width: PAGE_W, height: 603, background: '#fff', fontFamily: FONT, overflow: 'hidden' }}>
      <Txt x={13} y={17} size={16} align="left">A</Txt>
      <Txt x={45} y={17} size={13} align="left">Expression level:</Txt>
      <Txt x={380} y={17} size={13}><i>SAS4-AID</i> SR</Txt>
      {expressionPanels.map((p, i) => (
        <ProfilePanel key={p.title} x={PLOT_LEFTS[i]} y={62} title={p.title} titleX={p.titleX} lines={p.lines} yDomain={[3.4, 25.9]} />
      ))}
      <VTxt x={20} y={127} size={11}>H4 K16Ac, arbitrary units</VTxt>

      <Txt x={15} y={255} size={16} align="left">B</Txt>
      <NormPanel x={69} series={expressionSeries} legendX={268} />
      <Txt x={382} y={252} size={16} align="left">D</Txt>
      <NormPanel x={420} series={lengthSeries} legendX={620} />

      <Txt x={17} y={412} size={16} align="left">C</Txt>
      <Txt x={48} y={412} size={13} align="left">Gene length:</Txt>
      {lengthPanels.map((p, i) => (
        <ProfilePanel key={p.title} x={PLOT_LEFTS[i]} y={438} title={p.title} titleX={p.titleX} lines={p.lines} yDomain={[3.6, 26.8]} />
      ))}
      <VTxt x={20} y={503} size={11}>H4 K16Ac, arbitrary units</VTxt>
    </div>
  );
}
